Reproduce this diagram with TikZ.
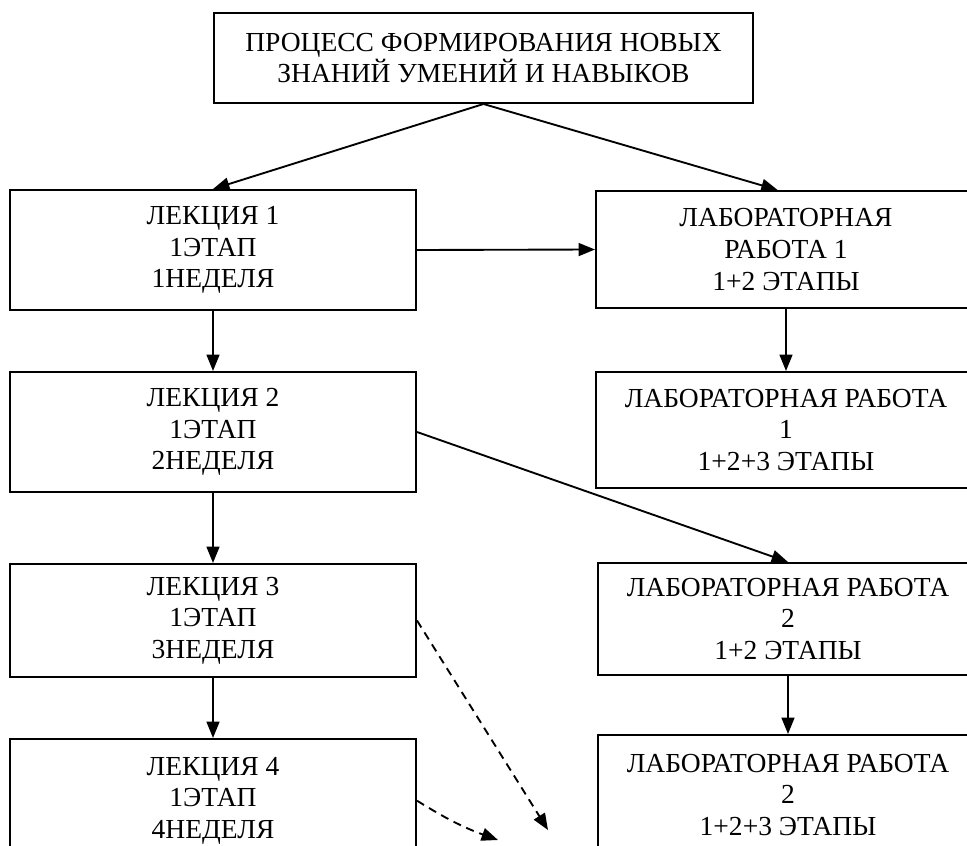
\documentclass[tikz,border=0pt]{standalone}
\usepackage{fontspec}
\setmainfont{Liberation Serif}
\usetikzlibrary{arrows.meta}

\begin{document}
\begin{tikzpicture}[
        block/.style={draw, line width=1.7pt, align=center, inner sep=0pt,
            font=\fontsize{23.5}{27}\selectfont},
        leftblock/.style={block, minimum width=12.18cm},
        rightblock/.style={block, minimum width=11.4cm},
        arr/.style={line width=1.6pt, -{Triangle[length=14pt,width=11pt]}},
        dasharr/.style={arr, dash pattern=on 7pt off 5pt}
    ]
            \useasboundingbox (0,0) rectangle (29.01,-25.38);
            \clip (0,0) rectangle (29.01,-25.38);

            \node[block, minimum width=16.17cm, minimum height=2.7cm,
                font=\fontsize{23.5}{23.5}\selectfont] (proc) at (14.505,-1.74)
                {ПРОЦЕСС ФОРМИРОВАНИЯ НОВЫХ\\ЗНАНИЙ УМЕНИЙ И НАВЫКОВ};

            \node[leftblock, minimum height=3.6cm] (lek1) at (6.39,-7.5) {ЛЕКЦИЯ 1\\1ЭТАП\\1НЕДЕЛЯ};
            \node[leftblock, minimum height=3.6cm] (lek2) at (6.39,-12.96) {ЛЕКЦИЯ 2\\1ЭТАП\\2НЕДЕЛЯ};
            \node[leftblock, minimum height=3.39cm] (lek3) at (6.39,-18.615) {ЛЕКЦИЯ 3\\1ЭТАП\\3НЕДЕЛЯ};
            \node[leftblock, minimum height=3.7cm] (lek4) at (6.39,-24.02) {ЛЕКЦИЯ 4\\1ЭТАП\\4НЕДЕЛЯ};

            \node[rightblock, minimum height=3.51cm] (lab1) at (23.58,-7.485) {ЛАБОРАТОРНАЯ\\РАБОТА 1\\1+2 ЭТАПЫ};
            \node[rightblock, minimum height=3.48cm] (lab1b) at (23.58,-12.9) {ЛАБОРАТОРНАЯ РАБОТА\\1\\1+2+3 ЭТАПЫ};
            \node[rightblock, minimum height=3.36cm] (lab2) at (23.64,-18.57) {ЛАБОРАТОРНАЯ РАБОТА\\2\\1+2 ЭТАПЫ};
            \node[rightblock, minimum height=3.6cm] (lab2b) at (23.64,-23.85) {ЛАБОРАТОРНАЯ РАБОТА\\2\\1+2+3 ЭТАПЫ};

            \coordinate (end3) at (16.44,-24.9);
            \coordinate (end4) at (14.94,-25.2);

            \draw[arr] (proc.south) -- (lek1.north);
            \draw[arr] (proc.south) -- ([xshift=-0.25cm]lab1.north);
            \draw[arr] (lek1.east) -- (lab1.west);
            \draw[arr] (lab1.south) -- (lab1b.north);
            \draw[arr] (lek1.south) -- (lek2.north);
            \draw[arr] (lek2.east) -- (lab2.north);
            \draw[arr] (lek2.south) -- (lek3.north);
            \draw[arr] (lek3.south) -- (lek4.north);
            \draw[arr] (lab2.south) -- (lab2b.north);
            \draw[dasharr] (lek3.east) -- (end3);
            \draw[dasharr] (lek4.east) to[bend right=6] (end4);
        \end{tikzpicture}
\end{document}
